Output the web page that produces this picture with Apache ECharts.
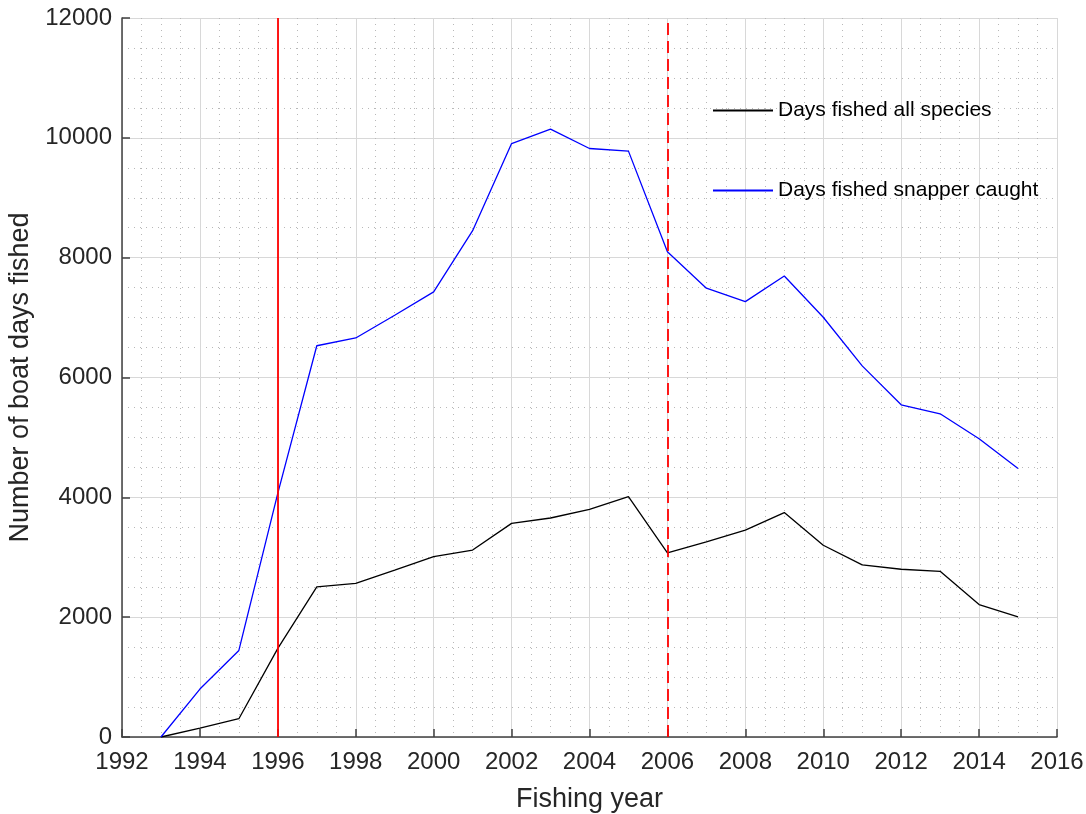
<!DOCTYPE html>
<html>
<head>
<meta charset="utf-8">
<script src="https://cdn.jsdelivr.net/npm/echarts@6/dist/echarts.min.js"></script>
<style>
html,body{margin:0;padding:0;background:#fff;}
#chart{width:1086px;height:814px;}
</style>
</head>
<body>
<div id="chart"></div>
<script>
var years = [1993,1994,1995,1996,1997,1998,1999,2000,2001,2002,2003,2004,2005,2006,2007,2008,2009,2010,2011,2012,2013,2014,2015];
var daysAllSpecies = [0,150,305,1480,2505,2565,2785,3010,3120,3565,3655,3800,4010,3075,3255,3452,3745,3200,2872,2800,2765,2210,2005];
var daysSnapper = [0,800,1445,4070,6530,6660,7040,7430,8450,9905,10145,9822,9778,8100,7490,7267,7694,7006,6194,5544,5394,4978,4483];
var seriesNames = ['Days fished all species','Days fished snapper caught'];
var refSolidYear = 1996;
var refDashedYear = 2006;
var xTitle = 'Fishing year';
var yTitle = 'Number of boat days fished';

function pairs(xs, ys){ return xs.map(function(x,i){ return [x, ys[i]]; }); }

var FONT = '"Liberation Sans", Arial, Helvetica, sans-serif';
var TXT = '#262626';
var chart = echarts.init(document.getElementById('chart'), null, {renderer:'canvas'});
var axisCommon = {
  axisLine:{show:true, onZero:false, lineStyle:{color:'#404040', width:1.5}},
  axisTick:{show:true, inside:true, length:8, lineStyle:{color:'#404040', width:1.5}},
  minorTick:{show:false, splitNumber:4},
  splitLine:{show:true, lineStyle:{color:'#d8d8d8', width:1}},
  minorSplitLine:{show:true, lineStyle:{color:'#b8b8b8', width:1, type:[1,5]}},
  axisLabel:{color:TXT, fontFamily:FONT, fontSize:24, formatter:function(v){return String(v);}},
  nameTextStyle:{color:TXT, fontFamily:FONT, fontSize:27}
};
var option = {
  animation:false,
  backgroundColor:'#fff',
  grid:{left:122, right:29, top:18, bottom:77, containLabel:false, outerBoundsMode:'none'},
  legend:{
    orient:'vertical', left:708, top:95, itemWidth:60, itemHeight:2, itemGap:59,
    icon:'rect',
    textStyle:{color:'#000', fontFamily:FONT, fontSize:21, padding:[0,0,0,0]},
    data:seriesNames
  },
  xAxis:Object.assign({}, axisCommon, {
    type:'value', min:1992, max:2016, interval:2,
    name:xTitle, nameLocation:'middle', nameGap:49,
    axisLabel:Object.assign({}, axisCommon.axisLabel, {margin:13})
  }),
  yAxis:Object.assign({}, axisCommon, {
    type:'value', min:0, max:12000, interval:2000,
    name:yTitle, nameLocation:'middle', nameGap:76,
    axisLabel:Object.assign({}, axisCommon.axisLabel, {margin:10})
  }),
  series:[
    {
      name:seriesNames[0], type:'line', data:pairs(years, daysAllSpecies),
      symbol:'none', lineStyle:{color:'#000', width:1.3}, itemStyle:{color:'#000'},
      z:3,
      markLine:{
        silent:true, symbol:['none','none'], label:{show:false},
        data:[
          {xAxis:refSolidYear, lineStyle:{color:'#ff0000', width:1.8, type:'solid'}},
          {xAxis:refDashedYear, lineStyle:{color:'#ff0000', width:1.8, type:[12,6]}}
        ]
      }
    },
    {
      name:seriesNames[1], type:'line', data:pairs(years, daysSnapper),
      symbol:'none', lineStyle:{color:'#0000ff', width:1.3}, itemStyle:{color:'#0000ff'},
      z:3
    }
  ]
};
chart.setOption(option);
</script>
</body>
</html>
